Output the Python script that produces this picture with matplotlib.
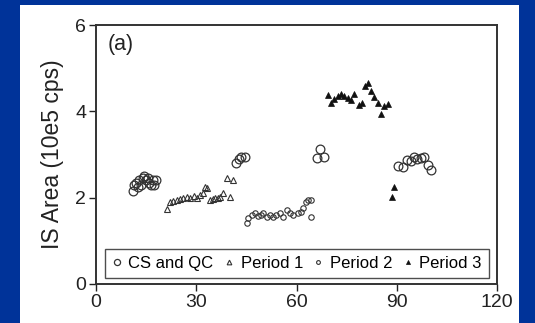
import matplotlib
matplotlib.use("Agg")
import matplotlib.pyplot as plt
from matplotlib.patches import Rectangle

plt.rcParams["font.family"] = ["Liberation Sans", "DejaVu Sans"]

# CS and QC samples (large open circles)
cs_x = [11, 11.5, 12, 12.5, 13, 13.5, 14, 14.5, 15, 15.5, 16, 16.5, 17, 17.5, 18,
        42, 42.7, 43.5, 44.5,
        66, 67, 68.2,
        90.3, 92, 93.2, 94.2, 95.1, 96.2, 97.2, 98.3, 99.3, 100.2]
cs_y = [2.15, 2.3, 2.35, 2.25, 2.4, 2.3, 2.45, 2.5, 2.4, 2.45, 2.35, 2.3, 2.4, 2.3, 2.4,
        2.8, 2.9, 2.95, 2.95,
        2.92, 3.12, 2.95,
        2.73, 2.7, 2.87, 2.85, 2.94, 2.9, 2.93, 2.94, 2.76, 2.64]

# Period 1 (open triangles)
p1_x = [21.3, 22.2, 23.0, 24.3, 25.2, 26.1, 27.2, 28.2, 29.2, 30.3, 31.2, 32.0, 32.7, 33.3,
        34.2, 35.0, 35.7, 36.5, 37.2, 38.1, 39.3, 40.2, 41.1]
p1_y = [1.74, 1.9, 1.92, 1.95, 1.97, 2.0, 2.02, 2.0, 2.03, 1.99, 2.06, 2.1, 2.25, 2.22,
        1.95, 1.98, 1.99, 2.0, 2.02, 2.1, 2.45, 2.02, 2.41]

# Period 2 (small open circles)
p2_x = [45.3, 45.6, 46.8, 47.7, 48.6, 49.4, 50.1, 51.3, 52.2, 53.1, 54.0, 55.2, 56.1,
        57.3, 58.2, 59.1, 60.3, 61.2, 61.8, 62.7, 63.3, 64.2, 64.2]
p2_y = [1.41, 1.53, 1.6, 1.64, 1.58, 1.6, 1.64, 1.56, 1.6, 1.56, 1.6, 1.64, 1.56,
        1.71, 1.64, 1.6, 1.64, 1.67, 1.76, 1.9, 1.95, 1.95, 1.56]

# Period 3 (filled triangles)
p3_x = [69.3, 70.2, 71.1, 72.3, 73.2, 74.1, 75.3, 76.2, 77.1, 78.6, 79.5, 80.4, 81.3,
        82.2, 83.1, 84.3, 85.2, 86.1, 87.3, 88.5, 89.1]
p3_y = [4.38, 4.2, 4.29, 4.35, 4.4, 4.35, 4.3, 4.26, 4.4, 4.15, 4.2, 4.59, 4.66,
        4.47, 4.33, 4.2, 3.94, 4.12, 4.17, 2.02, 2.25]

x_ticks = [0, 30, 60, 90, 120]
y_ticks = [0, 2, 4, 6]

fig = plt.figure(figsize=(5.35, 3.23), dpi=100)
fig.patch.set_facecolor("#003399")
fig.patches.append(Rectangle((20 / 535, 0), 499 / 535, 318 / 323,
                             transform=fig.transFigure, facecolor="white",
                             edgecolor="none", zorder=-5))

ax = fig.add_axes([96 / 535, 39 / 323, 401 / 535, 259 / 323])
ax.set_zorder(2)
ax.set_facecolor("white")

ax.plot(cs_x, cs_y, "o", mfc="none", mec="#333333", ms=6.3, mew=0.9, label="CS and QC")
ax.plot(p1_x, p1_y, "^", mfc="none", mec="#333333", ms=4.8, mew=0.8, label="Period 1")
ax.plot(p2_x, p2_y, "o", mfc="none", mec="#333333", ms=3.9, mew=0.8, label="Period 2")
ax.plot(p3_x, p3_y, "^", mfc="#111111", mec="#111111", ms=4.2, mew=0.5, label="Period 3")

ax.set_xlim(0, 120)
ax.set_ylim(0, 6)
ax.set_xticks(x_ticks)
ax.set_yticks(y_ticks)
ax.tick_params(direction="out", length=5, width=1, labelsize=14, colors="#222222", pad=2)
for s in ax.spines.values():
    s.set_linewidth(1.4)
    s.set_color("#333333")

ax.set_ylabel("IS Area (10e5 cps)", fontsize=16.5, color="#222222", labelpad=8)
ax.text(0.03, 0.923, "(a)", transform=ax.transAxes, fontsize=15.5,
        va="center", color="#222222")

leg = ax.legend(loc="lower left", bbox_to_anchor=(0.022, 0.025), ncol=4,
                fontsize=12, frameon=True, fancybox=False, markerscale=0.7,
                handlelength=0.6, handletextpad=0.4, columnspacing=0.62,
                borderpad=0.42, borderaxespad=0)
leg.get_frame().set_edgecolor("#222222")
leg.get_frame().set_linewidth(1.0)

fig.savefig("out.png", dpi=100, facecolor=fig.get_facecolor())
